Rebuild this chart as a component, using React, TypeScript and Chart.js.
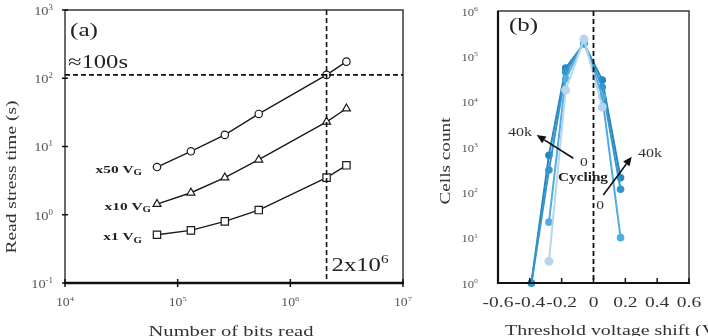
import { useEffect, useRef } from "react";
import { Chart, registerables } from "chart.js";

Chart.register(...registerables);

// ---- Panel (a): read stress time versus number of bits read ----
const bitsRead = [65536, 131072, 262144, 524288, 2097152, 3145728];
const stressX50 = [5.0, 8.5, 14.8, 30, 112, 175];
const stressX10 = [1.43, 2.1, 3.5, 6.4, 23, 36];
const stressX1 = [0.51, 0.59, 0.8, 1.17, 3.5, 5.3];
const stressNames = ["x50 V", "x10 V", "x1 V"];
const timeLimit = 112; // "≈100s" reference line
const bitsLimit = 2097152; // "2x10^6" reference line
const bitsExponents = [4, 5, 6, 7];
const timeExponents = [-1, 0, 1, 2, 3];

// ---- Panel (b): threshold voltage shift distributions during cycling ----
const vtShift = [-0.39, -0.28, -0.175, -0.06, 0.055, 0.17];
const cells0 = [null, 3, 1.8e4, 2.4e5, 7.6e3, null];
const cells10k = [null, 22, 3.2e4, 2.1e5, 1.3e4, 10];
const cells20k = [1, 310, 4.5e4, 2.0e5, 2.1e4, 117];
const cells40k = [1, 660, 5.5e4, 1.9e5, 3.0e4, 210];
const vtTicks = [-0.6, -0.4, -0.2, 0, 0.2, 0.4, 0.6];
const cellExponents = [0, 1, 2, 3, 4, 5, 6];

const SERIF = '"Liberation Serif", "Times New Roman", serif';

type Part = { t: string; k?: number; dy?: number };
type TextOpts = {
  bold?: boolean;
  color?: string;
  align?: "left" | "center" | "right";
  sx?: number;
  w?: number;
  rot?: number;
};

// Draws a run of text pieces (with optional super/subscripts); y is the visual middle.
function rich(ctx: CanvasRenderingContext2D, parts: Part[], x: number, y: number, size: number, o: TextOpts = {}) {
  ctx.save();
  ctx.fillStyle = o.color ?? "#222";
  ctx.textBaseline = "alphabetic";
  ctx.textAlign = "left";
  const fonts = parts.map((p) => `${o.bold ? "bold " : ""}${(size * (p.k ?? 1)).toFixed(1)}px ${SERIF}`);
  const widths = parts.map((p, i) => {
    ctx.font = fonts[i];
    return ctx.measureText(p.t).width;
  });
  const natural = widths.reduce((s, v) => s + v, 0);
  const sx = o.w ? o.w / natural : o.sx ?? 1.3;
  const total = natural * sx;
  ctx.translate(x, y);
  if (o.rot) ctx.rotate(o.rot);
  const x0 = o.align === "center" ? -total / 2 : o.align === "right" ? -total : 0;
  ctx.translate(x0, 0);
  ctx.scale(sx, 1);
  let cx = 0;
  const base = size * 0.33;
  parts.forEach((p, i) => {
    ctx.font = fonts[i];
    ctx.fillText(p.t, cx, base + (p.dy ?? 0) * size);
    cx += widths[i];
  });
  ctx.restore();
}

function line(ctx: CanvasRenderingContext2D, x1: number, y1: number, x2: number, y2: number) {
  ctx.beginPath();
  ctx.moveTo(x1, y1);
  ctx.lineTo(x2, y2);
  ctx.stroke();
}

function arrow(ctx: CanvasRenderingContext2D, x1: number, y1: number, x2: number, y2: number) {
  ctx.save();
  ctx.strokeStyle = "#111";
  ctx.fillStyle = "#111";
  ctx.lineWidth = 1.6;
  const ang = Math.atan2(y2 - y1, x2 - x1);
  const head = 9;
  const bx = x2 - head * Math.cos(ang);
  const by = y2 - head * Math.sin(ang);
  line(ctx, x1, y1, bx, by);
  ctx.beginPath();
  ctx.moveTo(x2, y2);
  ctx.lineTo(bx + 4 * Math.sin(ang), by - 4 * Math.cos(ang));
  ctx.lineTo(bx - 4 * Math.sin(ang), by + 4 * Math.cos(ang));
  ctx.closePath();
  ctx.fill();
  ctx.restore();
}

const pow10 = (e: number): Part[] => [{ t: "10" }, { t: String(e), k: 0.62, dy: -0.42 }];

const panelA = {
  id: "panelA",
  afterDatasetsDraw(chart: any) {
    const { ctx, chartArea: a } = chart;
    const x = chart.scales.x;
    const y = chart.scales.y;
    ctx.save();
    // frame
    ctx.strokeStyle = "#3a3a3a";
    ctx.lineWidth = 1.5;
    ctx.strokeRect(a.left, a.top, a.right - a.left, a.bottom - a.top);
    ctx.strokeStyle = "#111";
    ctx.lineWidth = 2.5;
    line(ctx, a.left - 1, a.bottom, a.right + 1, a.bottom);
    ctx.lineWidth = 1.5;
    bitsExponents.forEach((e) => {
      const px = x.getPixelForValue(10 ** e);
      line(ctx, px, a.bottom - 4, px, a.bottom + 4);
    });
    timeExponents.forEach((e) => {
      const py = y.getPixelForValue(10 ** e);
      line(ctx, a.left - 3, py, a.left + 3, py);
    });
    // reference lines
    ctx.setLineDash([5, 3]);
    ctx.lineWidth = 1.6;
    const hy = y.getPixelForValue(timeLimit);
    line(ctx, a.left, hy, a.right, hy);
    const vx = x.getPixelForValue(bitsLimit);
    line(ctx, vx, a.top, vx, a.bottom);
    ctx.setLineDash([]);
    ctx.restore();

    // tick labels
    bitsExponents.forEach((e) => {
      rich(ctx, pow10(e), x.getPixelForValue(10 ** e), 302, 11.5, { color: "#555", align: "center", sx: 1.2 });
    });
    timeExponents.forEach((e) => {
      rich(ctx, pow10(e), a.left - 12, y.getPixelForValue(10 ** e) + 1, 12, { color: "#555", align: "right", sx: 1.2 });
    });

    // series labels
    const firsts = [stressX50[0], stressX10[0], stressX1[0]];
    const gaps = [15, 6, 15];
    firsts.forEach((v, i) => {
      const px = x.getPixelForValue(bitsRead[0]);
      const py = y.getPixelForValue(v);
      rich(ctx, [{ t: stressNames[i] }, { t: "G", k: 0.7, dy: 0.22 }], px - gaps[i], py + 2, 11, {
        bold: true,
        align: "right",
        sx: 1.4,
      });
    });

    rich(ctx, [{ t: "(a)" }], a.left + 5, 30, 18, { w: 28 });
    rich(ctx, [{ t: "≈100s" }], a.left + 3, hy - 13, 19, { w: 60 });
    rich(ctx, [{ t: "2x10" }, { t: "6", k: 0.62, dy: -0.42 }], vx + 5, 265, 19, { sx: 1.3 });

    // axis titles
    rich(ctx, [{ t: "Number of bits read" }], 231, 331, 15, { color: "#333", align: "center", w: 165 });
    rich(ctx, [{ t: "Read stress time (s)" }], 11, 177, 15, { color: "#333", align: "center", w: 153, rot: -Math.PI / 2 });
  },
};

const panelB = {
  id: "panelB",
  afterDatasetsDraw(chart: any) {
    const { ctx, chartArea: a } = chart;
    const x = chart.scales.x;
    const y = chart.scales.y;
    const X = (v: number) => x.getPixelForValue(v);
    const Y = (v: number) => y.getPixelForValue(v);
    ctx.save();
    ctx.strokeStyle = "#3a3a3a";
    ctx.lineWidth = 1.5;
    ctx.strokeRect(a.left, a.top, a.right - a.left, a.bottom - a.top);
    ctx.strokeStyle = "#111";
    ctx.lineWidth = 2.2;
    line(ctx, a.left, a.top, a.left, a.bottom + 1);
    line(ctx, a.left - 1, a.bottom, a.right + 1, a.bottom);
    ctx.lineWidth = 1.5;
    vtTicks.forEach((v) => line(ctx, X(v), a.bottom, X(v), a.bottom - 5));
    ctx.setLineDash([5, 3]);
    ctx.lineWidth = 1.8;
    line(ctx, X(0), a.top, X(0), a.bottom);
    ctx.setLineDash([]);
    ctx.restore();

    vtTicks.forEach((v) => {
      rich(ctx, [{ t: String(v) }], X(v), 302, 15, { color: "#333", align: "center", sx: 1.3 });
    });
    cellExponents.forEach((e) => {
      rich(ctx, pow10(e), a.left - 20, Y(10 ** e) + 1, 11, { color: "#555", align: "right", sx: 1.15 });
    });

    rich(ctx, [{ t: "(b)" }], a.left + 11, 25, 18, { w: 29 });

    // cycling annotations
    arrow(ctx, X(-0.127), Y(564), X(-0.357), Y(1840));
    arrow(ctx, X(0.0616), Y(87), X(0.24), Y(611));
    rich(ctx, [{ t: "40k" }], X(-0.462), Y(2170), 12, { color: "#333", align: "center", w: 24 });
    rich(ctx, [{ t: "0" }], X(-0.085), Y(474), 13, { color: "#333", align: "left", sx: 1.2 });
    rich(ctx, [{ t: "Cycling" }], X(-0.066), Y(221), 13, { bold: true, align: "center", w: 50 });
    rich(ctx, [{ t: "0" }], X(0.041), Y(52), 13, { color: "#333", align: "center", sx: 1.2 });
    rich(ctx, [{ t: "40k" }], X(0.355), Y(740), 12, { color: "#333", align: "center", w: 24 });

    rich(ctx, [{ t: "Threshold voltage shift (V)" }], a.left + 7, 330, 15, { color: "#333", sx: 1.33 });
    rich(ctx, [{ t: "Cells count" }], 25, 161, 15, { color: "#333", align: "center", w: 87, rot: -Math.PI / 2 });
  },
};

export default function App() {
  const refA = useRef<HTMLCanvasElement>(null);
  const refB = useRef<HTMLCanvasElement>(null);

  useEffect(() => {
    const markers = ["circle", "triangle", "rect"];
    const radii = [3.7, 4.6, 5.2];
    const chartA = new Chart(refA.current!, {
      type: "line",
      data: {
        datasets: [stressX50, stressX10, stressX1].map((vals, i) => ({
          label: stressNames[i],
          data: bitsRead.map((b, j) => ({ x: b, y: vals[j] })),
          borderColor: "#1a1a1a",
          borderWidth: 1.4,
          pointStyle: markers[i],
          pointRadius: radii[i],
          pointBackgroundColor: "#ffffff",
          pointBorderColor: "#1a1a1a",
          pointBorderWidth: 1.2,
          clip: false,
        })),
      },
      options: {
        responsive: false,
        animation: false,
        devicePixelRatio: 1,
        events: [],
        layout: { padding: { left: 65, top: 10, right: 17, bottom: 53 } },
        plugins: { legend: { display: false }, tooltip: { enabled: false } },
        scales: {
          x: { type: "logarithmic", min: 1e4, max: 1e7, display: false },
          y: { type: "logarithmic", min: 0.1, max: 1000, display: false },
        },
      } as any,
      plugins: [panelA],
    });

    const cycleSets = [cells0, cells10k, cells20k, cells40k];
    const cycleColors = ["#b5d6ee", "#52ace0", "#3496cd", "#2a86bd"];
    const cycleNames = ["0", "10k", "20k", "40k"];
    const chartB = new Chart(refB.current!, {
      type: "line",
      data: {
        datasets: cycleSets.map((vals, i) => ({
          label: cycleNames[i],
          data: vtShift.map((v, j) => ({ x: v, y: vals[j] })),
          borderColor: cycleColors[i],
          backgroundColor: cycleColors[i],
          borderWidth: 2,
          pointRadius: i === 0 ? 4.5 : 3.8,
          pointBackgroundColor: cycleColors[i],
          pointBorderColor: cycleColors[i],
          pointBorderWidth: 0,
          clip: false,
        })),
      },
      options: {
        responsive: false,
        animation: false,
        devicePixelRatio: 1,
        events: [],
        layout: { padding: { left: 78, top: 11, right: 19, bottom: 53 } },
        plugins: { legend: { display: false }, tooltip: { enabled: false } },
        scales: {
          x: { type: "linear", min: -0.6, max: 0.6, display: false },
          y: { type: "logarithmic", min: 1, max: 1e6, display: false },
        },
      } as any,
      plugins: [panelB],
    });

    return () => {
      chartA.destroy();
      chartB.destroy();
    };
  }, []);

  return (
    <div
      style={{
        position: "fixed",
        left: 0,
        top: 0,
        width: 708,
        height: 336,
        background: "#ffffff",
        overflow: "hidden",
      }}
    >
      <canvas ref={refA} width={420} height={336} style={{ position: "absolute", left: 0, top: 0 }} />
      <canvas ref={refB} width={288} height={336} style={{ position: "absolute", left: 420, top: 0 }} />
    </div>
  );
}
